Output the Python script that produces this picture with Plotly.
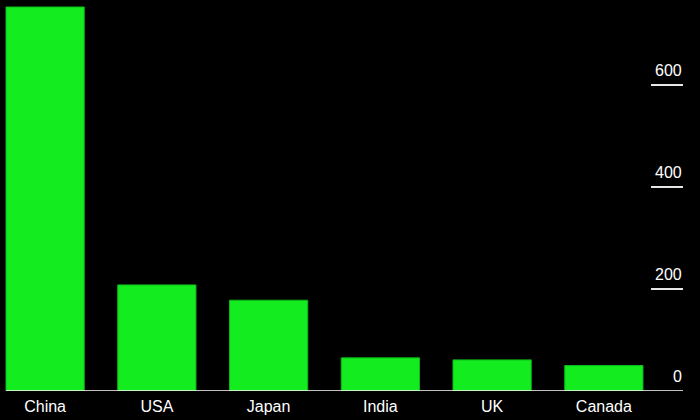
import plotly.graph_objects as go

countries = ["China", "USA", "Japan", "India", "UK", "Canada"]
values = [753, 208, 178, 65, 61, 50]
y_ticks = [0, 200, 400, 600]
y_tick_labels = ["0", "200", "400", "600"]

W, H = 700, 420
BAR_GREEN = "#13ed20"
EDGE_GREEN = "#0fb81a"
FONT = "Liberation Sans, Arial, sans-serif"

fig = go.Figure()
fig.add_trace(go.Bar(
    x=countries, y=values,
    marker=dict(color=BAR_GREEN, line=dict(color=EDGE_GREEN, width=1)),
    hoverinfo="x+y",
))

step = 111.75
x_left = -0.35 - 6 / step
x_right = x_left + W / step
y_top = 391 / 0.51

shapes = []
annotations = []
# zero baseline
shapes.append(dict(type="line", xref="paper", yref="y", x0=6 / W, x1=683 / W,
                   y0=0, y1=0, line=dict(color="#ffffff", width=1.5)))
for v, lab in zip(y_ticks, y_tick_labels):
    if v != 0:
        shapes.append(dict(type="line", xref="paper", yref="y", x0=651 / W, x1=683 / W,
                           y0=v, y1=v, line=dict(color="#e6e6e6", width=2)))
    annotations.append(dict(xref="paper", yref="y", x=684 / W, y=v, text=lab,
                            showarrow=False, xanchor="right", yanchor="bottom",
                            yshift=4,
                            font=dict(family=FONT, size=16, color="#ffffff")))

fig.update_layout(
    width=W, height=H,
    margin=dict(l=0, r=0, t=0, b=29),
    paper_bgcolor="#000000", plot_bgcolor="#000000",
    bargap=0.3,
    showlegend=False,
    xaxis=dict(range=[x_left, x_right], showgrid=False, zeroline=False, showline=False,
               ticks="", ticklabelstandoff=4,
               tickfont=dict(family=FONT, size=16, color="#ffffff"),
               fixedrange=True),
    yaxis=dict(range=[0, y_top], showgrid=False, zeroline=False, showline=False,
               showticklabels=False, ticks="", fixedrange=True),
    shapes=shapes,
    annotations=annotations,
)

fig.write_html(
    "out.html",
    config={"displayModeBar": False},
    post_script="document.body.style.margin='0';document.body.style.background='#000';",
)
